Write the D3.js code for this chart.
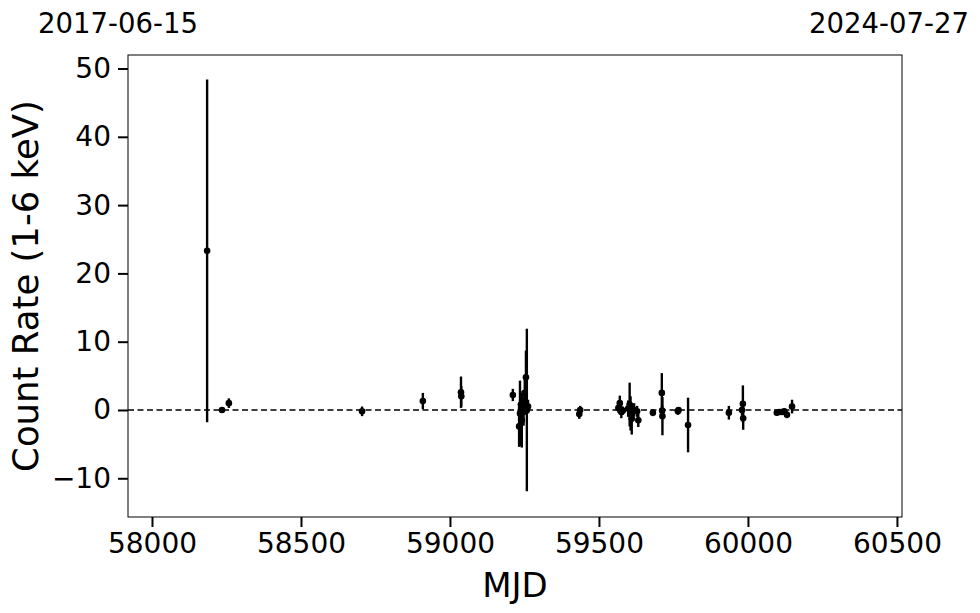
<!DOCTYPE html>
<html><head><meta charset="utf-8">
<script src="https://cdn.jsdelivr.net/npm/d3@7"></script>
<style>body{margin:0;background:#fff}svg{display:block}text{font-family:"DejaVu Sans",sans-serif}</style>
</head><body>
<script>
const mjd  = [58185,58235,58258,58705,58909,59037,59038,59211,59232,59235,59238,59241,59244,59247,59251,59255,59258,59262,59434,59437,59565,59570,59575,59580,59598,59603,59606,59610,59618,59628,59632,59681,59711,59712,59713,59765,59767,59799,59936,59980,59983,59984,60097,60105,60114,60122,60131,60148];
const rate = [23.3,0.0,1.0,-0.2,1.3,2.6,2.0,2.2,-2.4,-0.5,0.8,-1.5,1.0,-0.3,2.5,4.8,0.0,0.5,-0.6,0.0,0.3,1.0,-0.3,-0.1,0.2,0.8,-0.5,-1.3,0.0,-0.2,-1.5,-0.4,2.5,-0.1,-0.9,-0.2,0.0,-2.2,-0.4,0.0,0.9,-1.2,-0.4,-0.3,-0.3,-0.2,-0.7,0.5];
const rateErr = [25.1,0.3,0.7,0.7,1.2,2.3,1.5,0.9,3.0,4.8,1.5,4.0,1.8,2.0,2.4,3.9,11.9,1.0,0.7,0.6,0.7,1.1,0.9,0.6,1.2,3.2,2.5,2.3,1.0,0.8,1.0,0.5,2.9,0.8,2.8,0.5,0.4,4.0,1.0,0.8,2.7,1.7,0.4,0.4,0.4,0.4,0.5,1.0];
const xTicks = [58000,58500,59000,59500,60000,60500];
const yTicks = [-10,0,10,20,30,40,50];
const startDate = "2017-06-15", endDate = "2024-07-27";
const xLabel = "MJD", yLabel = "Count Rate (1-6 keV)";

const W=980,H=613, L=128,R=902,T=55,B=517;
const svg=d3.select("body").append("svg").attr("width",W).attr("height",H);
const x=d3.scaleLinear().domain([57919.5,60517]).range([L,R]);
const y=d3.scaleLinear().domain([-15.67,51.98]).range([B,T]);

// zero line
svg.append("line").attr("x1",L).attr("x2",R).attr("y1",y(0)).attr("y2",y(0))
  .attr("stroke","#000").attr("stroke-width",1.5).attr("stroke-dasharray","6,3.5");

const data=mjd.map((m,i)=>({m,v:rate[i],e:rateErr[i]}));
svg.append("g").selectAll("line").data(data).join("line")
  .attr("x1",d=>x(d.m)).attr("x2",d=>x(d.m)).attr("y1",d=>y(d.v-d.e)).attr("y2",d=>y(d.v+d.e))
  .attr("stroke","#000").attr("stroke-width",2.4);
svg.append("g").selectAll("circle").data(data).join("circle")
  .attr("cx",d=>x(d.m)).attr("cy",d=>y(d.v)).attr("r",3.3).attr("fill","#000");

// frame
svg.append("rect").attr("x",L).attr("y",T).attr("width",R-L).attr("height",B-T)
  .attr("fill","none").attr("stroke","#000").attr("stroke-width",1);

const fmt=d=>d<0?"\u2212"+Math.abs(d):String(d);
const xa=svg.append("g").attr("transform",`translate(0,${B})`)
  .call(d3.axisBottom(x).tickValues(xTicks).tickFormat(d=>String(d)).tickSize(10).tickPadding(6));
const ya=svg.append("g").attr("transform",`translate(${L},0)`)
  .call(d3.axisLeft(y).tickValues(yTicks).tickFormat(fmt).tickSize(10).tickPadding(7));
[xa,ya].forEach(a=>{a.select(".domain").remove();
  a.selectAll("line").attr("stroke","#000").attr("stroke-width",2);
  a.selectAll("text").attr("font-size",28).attr("fill","#000").attr("font-family","DejaVu Sans");});

svg.append("text").attr("x",(L+R)/2).attr("y",597).attr("text-anchor","middle").attr("font-size",34).text(xLabel);
svg.append("text").attr("transform",`translate(38,${(T+B)/2}) rotate(-90)`).attr("text-anchor","middle").attr("font-size",35.5).text(yLabel);
svg.append("text").attr("x",118).attr("y",33).attr("text-anchor","middle").attr("font-size",27.5).text(startDate);
svg.append("text").attr("x",889).attr("y",33).attr("text-anchor","middle").attr("font-size",27.5).text(endDate);
</script>
</body></html>
